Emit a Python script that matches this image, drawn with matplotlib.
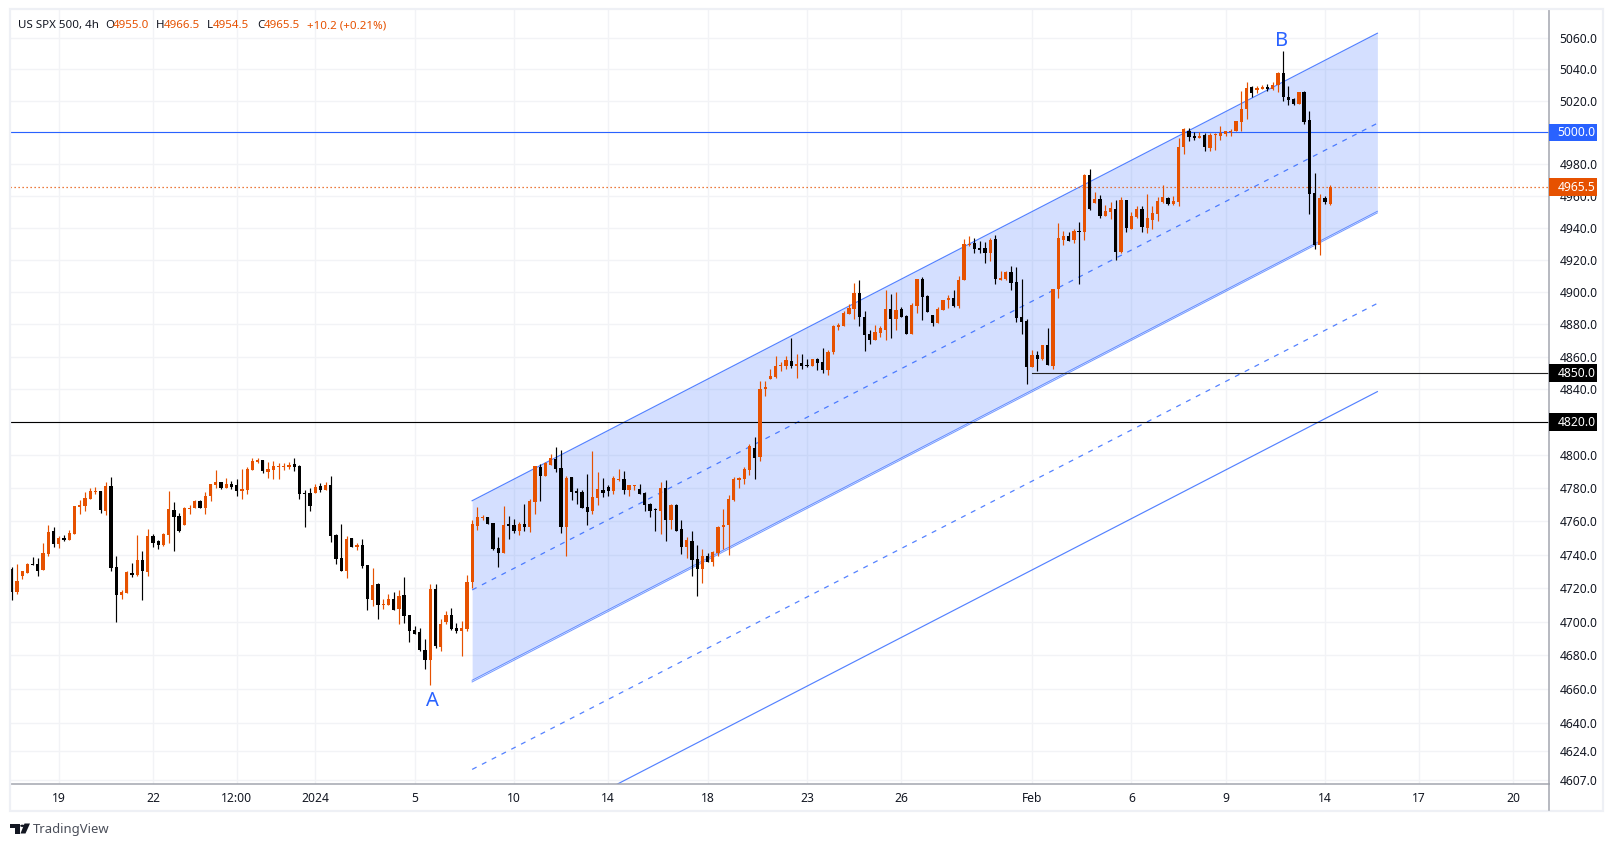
import matplotlib
matplotlib.use("Agg")
import matplotlib.pyplot as plt
from matplotlib.patches import Polygon, Rectangle, Circle

# 4h candles
opens = [4731.4,4717.8,4727.2,4729,4734.4,4734.4,4730.8,4740.4,4754.2,4746.4,
4750,4748.8,4752.4,4768.6,4769.2,4773.4,4777.6,4778.2,4766.2,4781.2,
4732.6,4715.8,4717,4729,4727.8,4736.8,4729.6,4751.2,4748.2,4745.8,
4751.8,4766.8,4763.2,4757.8,4767.4,4768,4772.2,4768,4775.2,4781.8,
4783.6,4780,4782.4,4781.8,4778.2,4778.8,4790.8,4795.6,4796.8,4789.6,
4790.8,4792.6,4792.6,4792.6,4794.4,4793.2,4777,4777,4777,4781.2,
4778.8,4781.8,4751.8,4738,4730.2,4750,4744.6,4745.8,4733.8,4712.8,
4722.4,4709.8,4709.8,4713.4,4707.4,4715.8,4703.8,4694.8,4693.6,4683.4,
4677.4,4719.4,4685.2,4699.6,4703.8,4696,4694.2,4695.4,4723.6,4757.2,
4762,4762.6,4759,4744,4740.9,4758,4758,4754.4,4758.6,4756.8,
4771.5,4792.9,4787.4,4794.1,4797.8,4792.3,4756.8,4786.8,4778.2,4777.6,
4768.4,4766,4774,4778.8,4780.7,4778.2,4785,4785.6,4778.8,4781.3,
4779.5,4777,4770.3,4767.2,4766,4780.1,4760.5,4769.7,4755.6,4744.6,
4748.2,4737.2,4731.1,4739.1,4735.4,4740.9,4756.8,4758,4772.7,4785,
4785.6,4791.1,4804.5,4799,4840,4846.2,4847.4,4854.1,4854.1,4857.2,
4854.7,4856,4855.3,4854.1,4858.4,4856.6,4851.7,4862.7,4878.6,4879.2,
4886.6,4889.6,4899.4,4884.7,4874.3,4870.6,4875,4876.8,4889.6,4883.5,
4889.6,4885.3,4874.3,4891.4,4908,4897.6,4886,4881,4889,4895.1,
4896.3,4891.4,4907.4,4929.1,4930.4,4927.3,4927.3,4924.1,4932.9,4907.2,
4907.9,4912.2,4906,4884.7,4882.2,4854,4860.9,4859,4867.2,4854.6,
4901.6,4932.3,4934.8,4932.3,4937.9,4937.3,4973,4955.4,4958,4947.3,
4949.8,4951.7,4924.8,4957.3,4939.2,4946.7,4951.7,4939.8,4944.8,4948.6,
4956.1,4958.6,4954.8,4956.1,4990.5,5000.5,4997.4,4996.1,4998,4989.9,
4998,4997.4,4998.6,4999.9,5000.5,5006.8,5014.9,5028.7,5026.8,5027.4,
5028.7,5027.4,5030,5037.5,5022.4,5021.2,5018.1,5025.6,5008,4961.7,
4929.1,4958.6,4955]
closes = [4717.8,4724.2,4730.2,4734.4,4733.8,4730.2,4741,4753.6,4746.4,4750,
4748.8,4753,4769.2,4769.8,4774,4778.2,4778.2,4766.8,4781.2,4732,
4715.8,4717.6,4729.6,4727.8,4736.8,4730.2,4751.2,4747,4745.8,4752.4,
4767.4,4762.6,4754.2,4768,4768,4772.2,4768,4775.2,4782.4,4783.6,
4780,4782.4,4780.6,4778.2,4779.4,4791.4,4796.2,4796.8,4790.2,4791.4,
4793.2,4793.2,4793.2,4793.8,4792.6,4776.4,4776.4,4769.2,4780.6,4778.8,
4781.8,4751.2,4737.4,4730.2,4749.4,4744.6,4745.8,4733.2,4713.4,4721.8,
4709.8,4710.4,4713.4,4706.8,4715.2,4703.2,4694.2,4692.4,4683.4,4677.4,
4719.4,4685.8,4698.4,4703.8,4695.4,4694.2,4696,4723.6,4758.4,4762.6,
4762.6,4758.4,4743.4,4741,4758,4757.4,4754.4,4758.6,4756.8,4772.1,
4793.5,4787.4,4795.4,4798.4,4791.7,4756.8,4786.2,4777.6,4777,4767.8,
4765.4,4774.6,4779.5,4777,4778.2,4786.2,4785.6,4778.8,4781.9,4781.9,
4776.4,4769.7,4766,4766.6,4780.1,4760.5,4769.7,4754.4,4744.6,4748.9,
4736.6,4731.1,4739.1,4735.4,4741.5,4756.8,4758,4773.3,4785.6,4786.2,
4791.7,4805.8,4798.4,4840,4841.3,4848,4854.7,4854.7,4857.8,4854.1,
4855.3,4854.7,4854.1,4858.4,4856,4851.7,4863.3,4879.2,4879.8,4887.2,
4890.2,4899.4,4884.7,4873.7,4870.6,4875.5,4878,4889.6,4883.5,4889,
4884.7,4874.3,4892.1,4908,4897,4887.8,4881,4889.6,4895.1,4896.3,
4891.4,4907.4,4930,4929.8,4926.6,4926,4924.1,4932.3,4907.9,4908.5,
4912.2,4905.4,4884.1,4881.6,4854,4860.9,4859,4867.2,4855.3,4901.6,
4933.5,4934.8,4931.6,4937.9,4937.3,4973,4951.7,4958,4947.3,4950.4,
4952.3,4924.8,4957.3,4939.8,4947.3,4951.7,4940.4,4946,4949.2,4956.7,
4959.2,4954.8,4956.7,4990.5,5001.8,4996.8,4996.1,4997.4,4990.5,4998,
4998.6,4999.3,5000.5,5001.1,5007.4,5014.9,5028.1,5024.9,5028.1,5028.7,
5027.4,5030,5037.5,5022.4,5020.6,5018.1,5025.6,5006.8,4961.1,4929.1,
4958.6,4956.1,4965.5]
highs = [4732.4,4734.4,4730.2,4735,4738.6,4738,4747,4757.8,4756.6,4751.2,
4751.8,4754.8,4769.2,4772.8,4777.6,4780,4780.6,4778.2,4783.6,4786.6,
4739.2,4718.8,4730.2,4735,4751.8,4742.2,4755.4,4752.4,4748.8,4753,
4778.2,4771.6,4765,4768.6,4769.8,4772.8,4772.8,4777.6,4782.4,4790.8,
4783.6,4786,4784.2,4785.4,4791.4,4792.6,4798,4798,4796.8,4795.6,
4796.2,4795,4795,4795.6,4798,4793.8,4778.8,4780,4782.4,4783,
4783.6,4787.2,4752.4,4758.4,4751.2,4750,4747,4749.4,4733.8,4732,
4723,4713.4,4716.4,4717.6,4718.8,4726.6,4703.8,4697.2,4696,4689.4,
4722.4,4722.4,4701.4,4706.2,4708,4699,4700.2,4727.8,4760.8,4768.6,
4763.8,4762.6,4759,4750.7,4769.5,4762.9,4761.1,4759.3,4770.3,4773.3,
4793.5,4794.8,4796,4800.9,4805.2,4803.3,4787.4,4786.8,4780.1,4778.8,
4788.6,4802.7,4789.9,4786.2,4781.9,4787.4,4791.7,4790.5,4781.9,4781.9,
4782.5,4777.6,4770.9,4767.8,4783.7,4785,4770.3,4770.3,4760.5,4750.7,
4754.4,4745.8,4743.3,4740.9,4742.1,4757.4,4767.2,4775.8,4786.8,4786.8,
4792.9,4807,4811.3,4845,4845.5,4852.3,4860.8,4856.6,4860.8,4871.9,
4861.5,4861.5,4858.4,4859,4859.6,4865.7,4864.5,4879.8,4881,4888.4,
4892.7,4905.5,4907.4,4888.4,4876.8,4879.8,4879.2,4901.2,4898.8,4900,
4890.8,4886,4893.3,4908,4909.2,4898.2,4886,4890.8,4895.1,4898.2,
4901.2,4909.8,4933.1,4934.8,4933.5,4931.6,4931,4933.5,4935.4,4912.9,
4912.9,4916,4915.4,4907.9,4883.4,4864,4863.4,4867.2,4877.8,4901.6,
4942.9,4937.9,4937.3,4939.2,4943.5,4973.6,4976.7,4962.3,4960.5,4954.2,
4956.1,4957.3,4959.2,4957.3,4949.8,4953.6,4953.6,4961.1,4953.6,4959.2,
4966.7,4959.2,4959.8,4996.1,5002.4,5003,4999.9,4999.9,4999.3,4999.3,
4999.3,5003.7,5001.1,5001.8,5007.4,5026.2,5031.8,5029.3,5029.3,5030,
5030.6,5031.8,5038.1,5051.9,5029.3,5021.8,5025.6,5026.2,5013.7,4974.2,
4961.1,4959.8,4966.5]
lows = [4713,4716.6,4725.6,4729,4733.8,4727.2,4730.8,4739.2,4744.6,4744,
4748.2,4748.8,4752.4,4764.4,4766.2,4773.4,4776.4,4765,4763.8,4730.2,
4699.6,4713.4,4717,4726.6,4727.2,4712.8,4727.2,4744.6,4743.4,4745.2,
4747,4742.2,4753.6,4757.8,4764.4,4768,4768,4764.4,4772.2,4780,
4779.4,4780,4779.4,4775.2,4773.4,4776.4,4790.8,4795,4789,4786,
4785.4,4785.4,4790.8,4791.4,4790.2,4773.4,4756.6,4766.2,4777,4777.6,
4778.8,4747.6,4734.4,4730.2,4726,4744.6,4742.8,4732,4706.8,4709.2,
4701.4,4707.4,4709.8,4706.8,4698.4,4699,4688.2,4692.4,4682.8,4672,
4662.4,4684.6,4682.8,4698.4,4694.8,4693,4679.8,4694.2,4720,4754.8,
4760.8,4758.4,4742.8,4732.6,4740.9,4749.5,4753.1,4751.9,4754.4,4753.7,
4764.2,4772.1,4787.4,4794.1,4789.9,4753.1,4739.1,4772.7,4770.3,4767.8,
4758,4764.2,4769.7,4774.6,4775.2,4776.4,4784.3,4776.4,4775.2,4778.8,
4776.4,4766,4762.3,4754.4,4752.5,4748.2,4755.6,4754.4,4740.3,4737.8,
4727.4,4715.2,4723.1,4735.4,4732.9,4739.1,4743.3,4739.7,4772.1,4780,
4782.5,4788,4785.6,4796.6,4835.8,4846.2,4846.8,4851.1,4852.3,4852.9,
4846.8,4852.3,4853.5,4854.1,4851.7,4850.4,4848.6,4861.5,4876.8,4879.2,
4886.6,4883.5,4879.2,4863.9,4868.2,4870.6,4872.5,4870.6,4871.9,4876.8,
4884.7,4874.3,4874.3,4887.2,4882.9,4887.8,4879.2,4881,4889,4890.2,
4890.8,4890.2,4907.4,4928.5,4924.1,4924.1,4917.9,4919.1,4904.7,4907.2,
4907.2,4901,4881.6,4874,4843.4,4854,4851.5,4857.8,4855.3,4852.8,
4896.6,4929.1,4931.6,4930.4,4904.7,4932.3,4951,4955.4,4946,4947.3,
4945.4,4919.8,4924.1,4937.3,4939.2,4946,4937.3,4936.7,4939.2,4944.2,
4955.4,4954.2,4954.2,4953.6,4986.1,4994.3,4994.9,4996.1,4988,4988,
4988.6,4994.9,4997.4,4997.4,5000.5,5000.5,5008.7,5022.4,5024.9,5027.4,
5026.2,5026.8,5025.6,5019.9,5017.4,5017.4,5018.1,5005.5,4948.6,4926.6,
4922.9,4954.8,4954.5]

# axis ticks
price_ticks = [5060,5040,5020,4980,4960,4940,4920,4900,4880,4860,4840,4800,4780,
               4760,4740,4720,4700,4680,4660,4640,4624,4607]
grid_only = [5000,4820]
date_pos = [9,27,43,58,77,96,114,133,152,170,195,214,232,251,269,287]
date_labels = ["19","22","12:00","2024","5","10","14","18","23","26","Feb","6","9","14","17","20"]

# drawings (bar index / price)
chan_x = [88,261]
chan_top = [4772.4,5063.0]
chan_mid = [4718.9,5005.7]
chan_bot = [4665.3,4950.3]
chan_bot2 = [4664.3,4949.3]
ext_dash = [4613.0,4893.0]
ext_solid = [4561.0,4838.7]
level_blue = 5000.0
level_black = 4820.0
level_short = 4850.0
level_short_start = 195
last_price = 4965.5

W, H = 1613, 847
BLUE = "#2962FF"
ORANGE = "#E65100"
TXT = "#131722"
GRID = "#F2F3F6"
FONT = "Noto Sans"
FS = 8.7

plt.rcParams["font.family"] = FONT
fig = plt.figure(figsize=(W/100, H/100), dpi=100, facecolor="white")
ax = fig.add_axes([10/W, 1-784/H, 1539/W, 774/H])
ax.set_yscale("log")
ax.set_xlim(-0.32, 293.8)
ax.set_ylim(4604.5, 5077.9)
ax.set_axisbelow(True)

x = list(range(len(opens)))
up = [c >= o for o, c in zip(opens, closes)]
cols = [ORANGE if u else "#000000" for u in up]
bott = [min(o, c) for o, c in zip(opens, closes)]
hts = [max(abs(c-o), 0.7) for o, c in zip(opens, closes)]

# channel
ax.fill_between(chan_x, chan_bot, chan_top, color=BLUE, alpha=0.2, lw=0, zorder=1)
ax.plot(chan_x, chan_top, color=BLUE, lw=0.85, alpha=0.8, zorder=2)
ax.plot(chan_x, chan_bot, color=BLUE, lw=0.7, alpha=0.65, zorder=2)
ax.plot(chan_x, chan_bot2, color=BLUE, lw=0.7, alpha=0.65, zorder=2)
ax.plot(chan_x, chan_mid, color=BLUE, lw=0.9, alpha=0.8, dashes=(4, 4.8), zorder=2)
ax.plot(chan_x, ext_dash, color=BLUE, lw=0.9, alpha=0.8, dashes=(4, 4.8), zorder=2)
ax.plot(chan_x, ext_solid, color=BLUE, lw=0.85, alpha=0.8, zorder=2)

ax.axhline(level_blue, color=BLUE, lw=0.8, zorder=2.2)
ax.axhline(level_black, color="black", lw=0.8, zorder=2.2)
ax.plot([level_short_start, 293.8], [level_short]*2, color="#222222", lw=0.8, zorder=2.2)
ax.axhline(last_price, color=ORANGE, lw=0.9, dashes=(1, 2.2), zorder=2.2)

# candles
ax.vlines(x, lows, highs, colors=cols, lw=0.85, zorder=3)
ax.bar(x, hts, bottom=bott, width=0.62, color=cols, lw=0, zorder=3.1)

ax.text(80.5, 4652.8, "A", color=BLUE, fontsize=14.5, ha="center", va="center")
ax.text(242.7, 5058.2, "B", color=BLUE, fontsize=14.5, ha="center", va="center")

# axes
ax.yaxis.tick_right()
ax.set_yticks(price_ticks + grid_only)
ax.set_yticklabels([f"{p:.1f}" for p in price_ticks] + ["", ""], fontsize=FS, color=TXT)
ax.yaxis.set_minor_locator(matplotlib.ticker.NullLocator())
ax.set_xticks(date_pos)
ax.set_xticklabels(date_labels, fontsize=FS, color=TXT)
ax.tick_params(axis="both", length=0)
ax.tick_params(axis="y", pad=7.5)
ax.tick_params(axis="x", pad=5.5)
ax.get_xticklabels()[3].set_fontweight("bold")
ax.grid(True, color=GRID, lw=1)
for s in ["top", "left"]:
    ax.spines[s].set_visible(False)
for s in ["right", "bottom"]:
    ax.spines[s].set_color("#A3A6AF")
    ax.spines[s].set_linewidth(1.1)

# price tags on the axis
ytr = ax.get_yaxis_transform()
for price, col in [(level_blue, BLUE), (last_price, ORANGE), (level_short, "black"), (level_black, "black")]:
    ax.add_patch(Rectangle((1.0, price-5.5), 48/1539, 11, transform=ytr, fc=col, ec="none",
                           clip_on=False, zorder=9))
    ax.text(1.0+8.5/1539, price, f"{price:.1f}", transform=ytr, color="white", fontsize=FS,
            fontweight="bold", va="center", ha="left", zorder=10, clip_on=False)

# frame
fig.add_artist(Rectangle((9.5/W, 1-811/H), 1593/W, 801.5/H, transform=fig.transFigure,
                         fc="none", ec="#EEF0F5", lw=1.6))
fig.add_artist(plt.Line2D([1549.3/W]*2, [1-784/H, 1-810/H], color="#A3A6AF", lw=1.1))

# header
def head(px, s, col=TXT):
    fig.text(px/W, 1-25.5/H, s, color=col, fontsize=8.3, va="center", ha="left")

head(18, "US SPX 500, 4h")
head(105, "O")
head(113, "4955.0", ORANGE)
head(156, "H")
head(164, "4966.5", ORANGE)
head(207, "L")
head(213, "4954.5", ORANGE)
head(257, "C")
head(264, "4965.5", ORANGE)
head(307, "+10.2 (+0.21%)", ORANGE)

# logo
def px(pts):
    return [(a/W, 1-b/H) for a, b in pts]

fig.add_artist(Polygon(px([(10,823.5),(20,823.5),(20,833.5),(15,833.5),(15,828),(10,828)]),
                       transform=fig.transFigure, fc="#131722", ec="none"))
fig.add_artist(Polygon(px([(24.5,823.5),(30,823.5),(25.5,833.5),(20.5,833.5)]),
                       transform=fig.transFigure, fc="#131722", ec="none"))
fig.add_artist(Circle((22.4/W, 1-825.8/H), 2.2/W, transform=fig.transFigure, fc="#131722", ec="none"))
fig.text(33/W, 1-829.5/H, "TradingView", color="#4A4E59", fontsize=9.4, va="center", ha="left")

fig.savefig("out.png", dpi=100)
